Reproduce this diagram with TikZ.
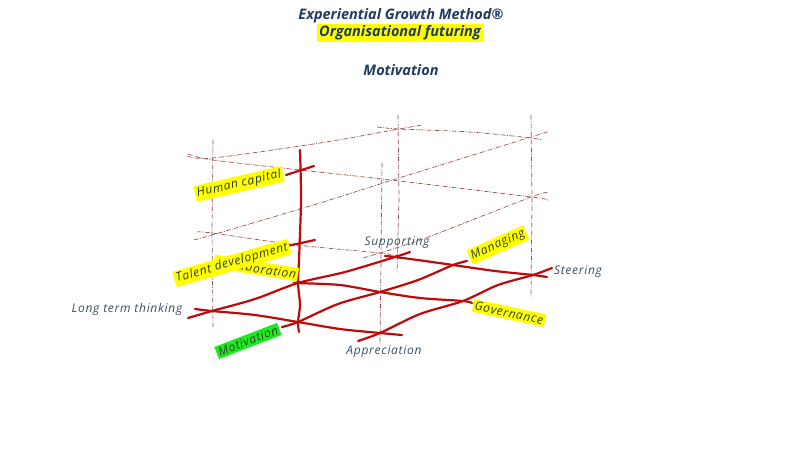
\documentclass[tikz,border=0pt]{standalone}
\usepackage{fontspec}
\setmainfont{Open Sans}
\newfontfamily\handfont[LetterSpace=6]{Open Sans}
\definecolor{titleblue}{RGB}{32,58,98}
\definecolor{labelblue}{RGB}{58,78,102}
\definecolor{hltext}{RGB}{45,62,40}
\definecolor{hlyellow}{RGB}{255,255,0}
\definecolor{hlgreen}{RGB}{30,235,30}
\definecolor{gridred}{RGB}{190,10,10}
\definecolor{framered}{RGB}{150,80,80}
\tikzset{
    grid line/.style={draw=gridred, line width=2.2pt, line cap=round},
    frame line/.style={draw=framered, line width=0.7pt,
        dash pattern=on 4.5pt off 1.5pt on 0.8pt off 1.5pt},
    title/.style={text=titleblue, font=\fontsize{14.5}{16}\selectfont\bfseries\itshape,
        inner sep=1pt},
    plain/.style={text=labelblue, font=\handfont\fontsize{12}{14}\selectfont\itshape, inner sep=1pt},
    hl/.style={plain, text=hltext, fill=hlyellow, inner sep=2pt},
    hlg/.style={hl, fill=hlgreen},
}
\begin{document}
\begin{tikzpicture}[x=1pt, y=-1pt]
\useasboundingbox (0,0) rectangle (800,450);

% title
\node[title] (egm) at (401,16) {Experiential Growth Method®};
\node[title, fill=hlyellow, inner sep=2pt] (orgfut) at (400,33) {Organisational futuring};
\node[title] (mottitle) at (401,70) {Motivation};

% dash-dot frame
\draw[frame line] (213,140) -- (212,230) -- (213,328);
\draw[frame line] (382,163) -- (381,260) -- (380,345);
\draw[frame line] (398,115) -- (399,200) -- (397,273);
\draw[frame line] (531,115) -- (532,200) -- (531,298);
\draw[frame line] plot[smooth] coordinates {(187,156) (213,158) (320,143) (399,129) (422,125)};
\draw[frame line] plot[smooth] coordinates {(377,127) (399,129) (470,132) (531,138) (542,140)};
\draw[frame line] plot[smooth] coordinates {(188,154) (213,160) (300,170) (382,179) (531,197) (547,200)};
\draw[frame line] plot[smooth] coordinates {(547,132) (531,137) (399,178) (320,203) (212,235) (193,240)};
\draw[frame line] plot[smooth] coordinates {(197,232) (212,233) (297,245) (380,253) (398,256)};
\draw[frame line] plot[smooth] coordinates {(547,193) (531,197) (420,240) (363,258)};

% red grid crossings
\coordinate (lt) at (212,311);
\coordinate (co) at (298,283);
\coordinate (su) at (395,257);
\coordinate (mo) at (298,322);
\coordinate (ce) at (380,292);
\coordinate (ma) at (453,265);
\coordinate (ap) at (380,333);
\coordinate (go) at (463,301);
\coordinate (st) at (533,275);

% rows
\draw[grid line] plot[smooth] coordinates {(188,318) (lt) (255,299) (co) (345,272) (su) (410,252)};
\draw[grid line] plot[smooth] coordinates {(282,327) (mo) (338,304) (ce) (418,280) (ma) (467,261)};
\draw[grid line] plot[smooth] coordinates {(358,341) (ap) (420,314) (go) (498,285) (st) (552,268)};
% columns
\draw[grid line] plot[smooth] coordinates {(195,309) (lt) (255,315) (mo) (340,329) (ap) (402,335)};
\draw[grid line] plot[smooth] coordinates {(300,282) (co) (340,285) (ce) (420,298) (go) (472,303)};
\draw[grid line] plot[smooth] coordinates {(385,256) (su) (425,261) (ma) (495,271) (st) (547,277)};

% vertical stem and ticks
\draw[grid line] plot[smooth] coordinates {(300,150) (301,200) (299,260) (co) (300,305) (mo) (299,332)};
\draw[grid line] (286,175) -- (314,166);
\draw[grid line] (287,246) -- (315,240);

% labels
\node[hl, rotate=13] (humancap) at (239,184) {Human capital};
\node[hl, rotate=-9] (collab) at (256,268) {Collaboration};
\node[hl, rotate=16] (talent) at (232,263) {Talent development};
\node[plain] (longterm) at (127,309) {Long term thinking};
\node[hlg, rotate=21] (motiv) at (248,341) {Motivation};
\node[plain] (supp) at (397,243) {Supporting};
\node[plain] (appr) at (384,352) {Appreciation};
\node[plain] (steer) at (578,272) {Steering};
\node[hl, rotate=24] (manag) at (498,245) {Managing};
\node[hl, rotate=-12] (gov) at (509,313) {Governance};
\end{tikzpicture}
\end{document}
